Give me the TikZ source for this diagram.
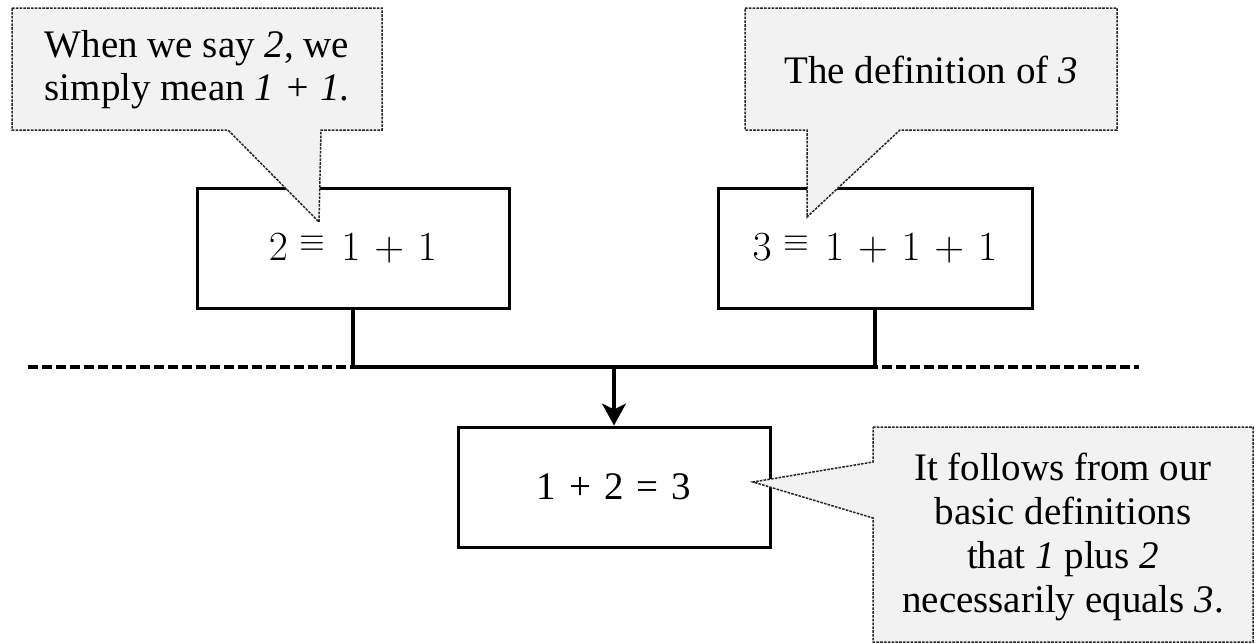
\documentclass[tikz,border=0pt]{standalone}
\usepackage{fontspec}
\usepackage{graphicx}
\setmainfont{Liberation Serif}
\usetikzlibrary{arrows.meta,calc}

% raised, slightly reduced identity sign used in the definitions
\newcommand{\defeq}{\mkern5mu\raisebox{0.22em}{\scalebox{0.8}{$\equiv$}}\mkern7mu}

\tikzset{
  mathbox/.style={draw=black, line width=1.5pt, fill=white,
    minimum width=156pt, minimum height=60pt, inner sep=0pt,
    font=\fontsize{20pt}{22pt}\selectfont},
  calloutshape/.style={draw=black!85, fill=black!5, line width=0.75pt,
    dash pattern=on 1.3pt off 0.6pt, line join=miter},
  callouttext/.style={align=center, inner sep=0pt,
    font=\fontsize{19.5pt}{21.5pt}\selectfont},
  link/.style={draw=black, line width=1.6pt},
  separator/.style={draw=black, line width=1.8pt, dash pattern=on 5pt off 2pt}
}

\begin{document}
\begin{tikzpicture}[x=0.5pt, y=-0.5pt]
  \useasboundingbox (0,0) rectangle (1254,643);
  \fill[white] (0,0) rectangle (1254,643);

  % horizontal dashed separator
  \coordinate (sepL) at (28,367);
  \coordinate (sepR) at (1139,367);
  \draw[separator] (sepL) -- (sepR);

  % the two definitions and the conclusion
  \node[mathbox] (defTwo) at (353,248)
    {\raisebox{-3pt}{$\medmuskip=6mu 2\defeq 1+1$}};
  \node[mathbox, minimum width=157pt] (defThree) at (875,248)
    {\raisebox{-3pt}{$\medmuskip=6mu 3\defeq 1+1+1$}};
  \node[mathbox, font=\fontsize{19.5pt}{21.5pt}\selectfont] (sum) at (614,487)
    {1\,\,+\,\,2\,\,=\,\,3};

  % joining the definitions and leading to the conclusion
  \coordinate (join) at (614,367);
  \draw[link] (defTwo.south) |- (join) -| (defThree.south);
  \draw[link, -{Stealth[length=11pt, width=12pt, inset=3pt]}] (join) -- (sum.north);

  % callout on the definition of 2
  \coordinate (tipOne) at (319,222);
  \draw[calloutshape] (12,8) -- (382,8) -- (382,130) -- (321,130)
    -- (tipOne) -- (228,130) -- (12,130) -- cycle;
  \node[callouttext] (noteOne) at (197,70)
    {When we say \textit{2}, we\\simply mean \textit{1 + 1}.};

  % callout on the definition of 3
  \coordinate (tipTwo) at (807,217);
  \draw[calloutshape] (745,8) -- (1117,8) -- (1117,130) -- (900,130)
    -- (tipTwo) -- (807,130) -- (745,130) -- cycle;
  \node[callouttext] (noteTwo) at (931,70) {The definition of \textit{3}};

  % callout on the conclusion
  \coordinate (tipThree) at (753,482);
  \draw[calloutshape] (873,427) -- (1253,427) -- (1253,642) -- (873,642)
    -- (873,518) -- (tipThree) -- (873,462) -- cycle;
  \node[callouttext, font=\fontsize{19.5pt}{22pt}\selectfont] (noteThree) at (1063,537)
    {It follows from our\\basic definitions\\that \textit{1} plus \textit{2}\\necessarily equals \textit{3}.};
\end{tikzpicture}
\end{document}
